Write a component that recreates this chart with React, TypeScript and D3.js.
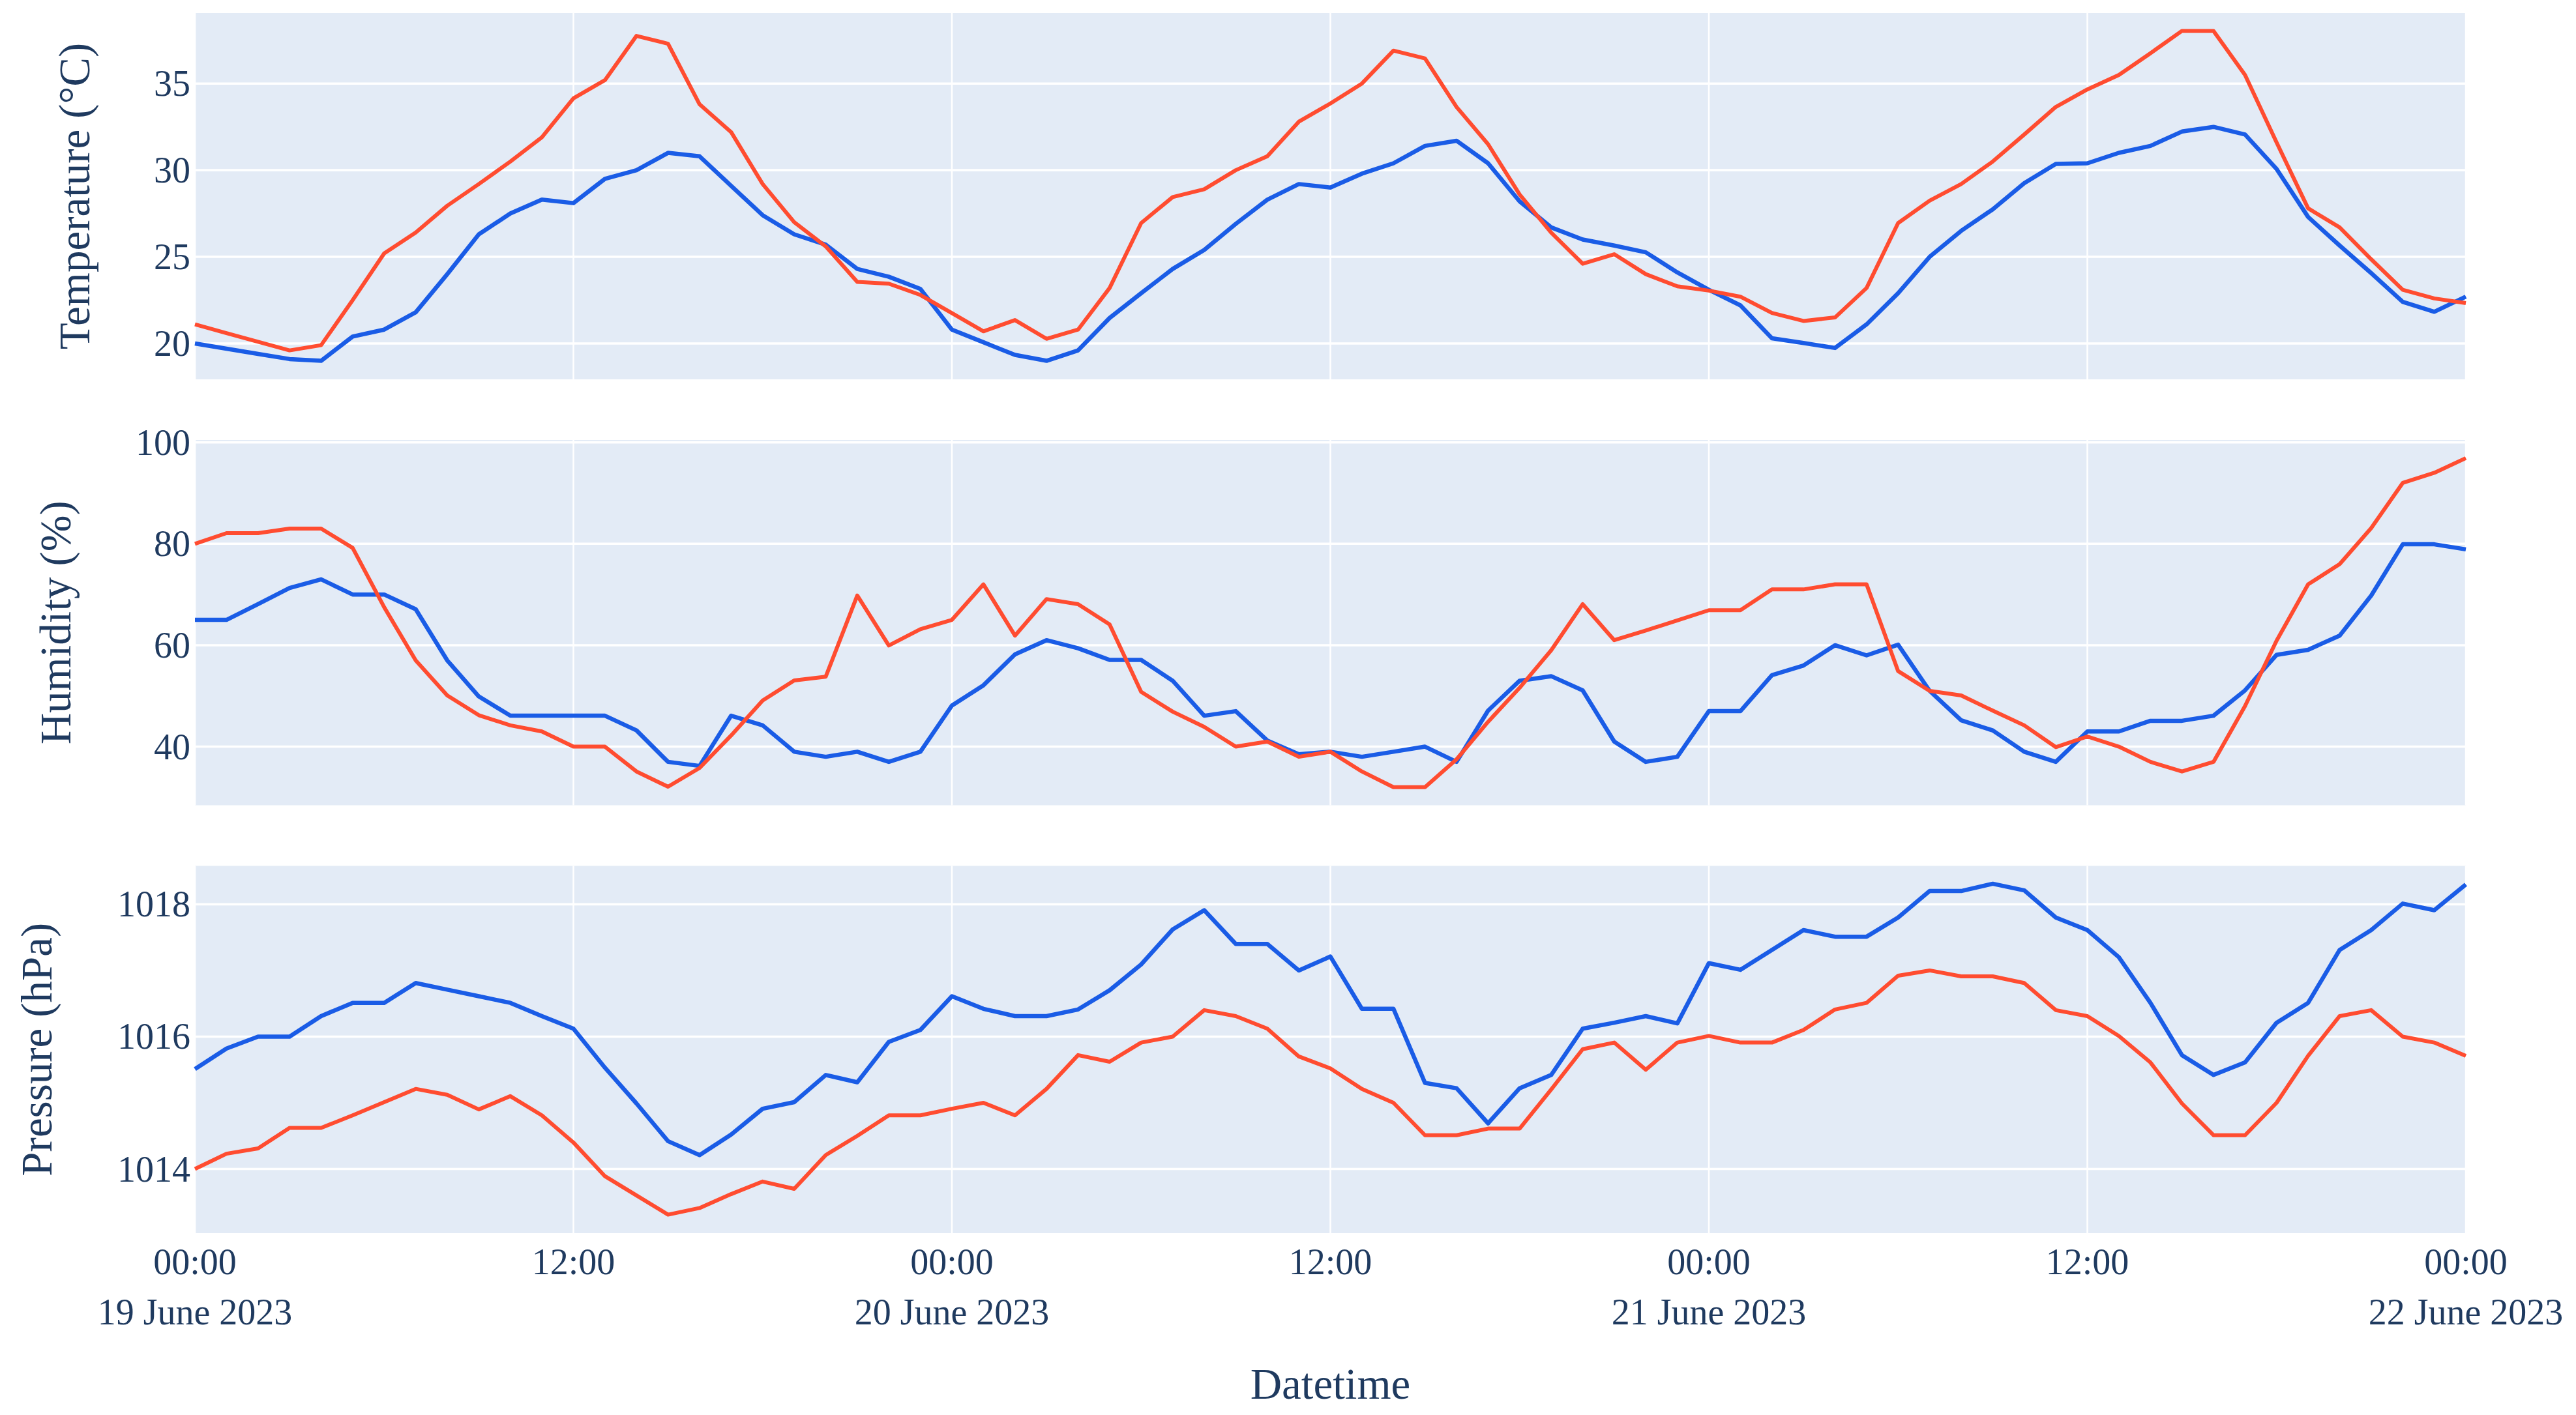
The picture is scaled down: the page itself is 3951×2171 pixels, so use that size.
import React from "react";
import * as d3 from "d3";

const hours: number[] = d3.range(0, 73);

const tempBlue: number[] = [20.0, 19.7, 19.4, 19.1, 19.0, 20.4, 20.8, 21.8, 24.0, 26.3, 27.5, 28.3, 28.1, 29.5, 30.0, 31.0, 30.8, 29.1, 27.4, 26.3, 25.7, 24.3, 23.85, 23.15, 20.8, 20.07, 19.34, 19.0, 19.6, 21.47, 22.9, 24.3, 25.4, 26.9, 28.3, 29.2, 29.0, 29.8, 30.4, 31.4, 31.7, 30.4, 28.2, 26.7, 26.0, 25.65, 25.26, 24.1, 23.1, 22.2, 20.3, 20.03, 19.74, 21.1, 22.9, 25.0, 26.5, 27.74, 29.25, 30.36, 30.4, 31.0, 31.4, 32.23, 32.5, 32.06, 30.07, 27.3, 25.65, 24.06, 22.4, 21.83, 22.7];
const tempRed: number[] = [21.1, 20.6, 20.1, 19.6, 19.9, 22.5, 25.2, 26.4, 27.95, 29.2, 30.5, 31.9, 34.15, 35.2, 37.75, 37.3, 33.8, 32.2, 29.2, 27.0, 25.6, 23.55, 23.45, 22.8, 21.75, 20.7, 21.35, 20.27, 20.8, 23.2, 26.95, 28.45, 28.9, 30.0, 30.8, 32.8, 33.85, 35.0, 36.9, 36.45, 33.65, 31.5, 28.6, 26.4, 24.6, 25.15, 24.0, 23.3, 23.05, 22.7, 21.76, 21.3, 21.5, 23.2, 26.95, 28.24, 29.2, 30.5, 32.06, 33.65, 34.66, 35.5, 36.75, 38.04, 38.04, 35.5, 31.6, 27.8, 26.7, 24.86, 23.1, 22.6, 22.33];

const humBlue: number[] = [65, 65, 68.1, 71.3, 73, 70, 70, 67.1, 57, 49.9, 46.1, 46.1, 46.1, 46.1, 43.2, 37.0, 36.2, 46.1, 44.2, 39.0, 38.0, 39, 37, 39, 48.1, 52.1, 58.2, 61, 59.4, 57.1, 57.1, 53, 46.1, 47, 41.2, 38.5, 39, 38, 39, 40, 37, 47.1, 53, 53.9, 51.1, 41, 37, 38, 47, 47, 54.1, 56, 60, 58, 60.1, 51, 45.2, 43.2, 39, 37, 43, 43, 45.1, 45.1, 46.1, 51.1, 58.1, 59.1, 61.9, 69.8, 79.9, 79.9, 78.9];
const humRed: number[] = [80, 82.1, 82.1, 83, 83, 79.2, 67.5, 57, 50.1, 46.2, 44.2, 43, 40, 40, 35.1, 32.1, 35.8, 42.2, 49.1, 53.05, 53.8, 69.8, 59.95, 63.15, 65, 72, 61.9, 69.1, 68.1, 64.1, 50.8, 46.9, 43.9, 40, 41, 38, 39, 35.1, 32, 32, 37.5, 44.9, 51.6, 59, 68.1, 61, 62.9, 64.9, 66.9, 66.9, 71, 71, 72, 72, 54.9, 51, 50.1, 47.1, 44.2, 39.9, 42, 40, 37, 35.1, 37, 48, 60.9, 72, 76, 83.1, 92, 94, 96.9];

const presBlue: number[] = [1015.51, 1015.82, 1016.0, 1016.0, 1016.31, 1016.51, 1016.51, 1016.81, 1016.71, 1016.61, 1016.51, 1016.31, 1016.12, 1015.53, 1014.99, 1014.42, 1014.21, 1014.52, 1014.91, 1015.01, 1015.42, 1015.31, 1015.92, 1016.1, 1016.61, 1016.42, 1016.31, 1016.31, 1016.41, 1016.7, 1017.09, 1017.62, 1017.91, 1017.4, 1017.4, 1017.0, 1017.21, 1016.42, 1016.42, 1015.3, 1015.22, 1014.69, 1015.22, 1015.42, 1016.12, 1016.21, 1016.31, 1016.2, 1017.11, 1017.01, 1017.31, 1017.61, 1017.51, 1017.51, 1017.8, 1018.2, 1018.2, 1018.31, 1018.21, 1017.8, 1017.61, 1017.2, 1016.51, 1015.72, 1015.42, 1015.61, 1016.21, 1016.51, 1017.31, 1017.61, 1018.01, 1017.91, 1018.3];
const presRed: number[] = [1014.0, 1014.23, 1014.31, 1014.62, 1014.62, 1014.81, 1015.01, 1015.21, 1015.12, 1014.9, 1015.1, 1014.81, 1014.4, 1013.89, 1013.6, 1013.31, 1013.41, 1013.62, 1013.81, 1013.7, 1014.21, 1014.5, 1014.81, 1014.81, 1014.91, 1015.0, 1014.81, 1015.21, 1015.72, 1015.62, 1015.91, 1016.0, 1016.4, 1016.31, 1016.12, 1015.7, 1015.52, 1015.21, 1015.0, 1014.51, 1014.51, 1014.61, 1014.61, 1015.2, 1015.81, 1015.91, 1015.5, 1015.91, 1016.01, 1015.91, 1015.91, 1016.1, 1016.41, 1016.51, 1016.92, 1017.0, 1016.91, 1016.91, 1016.81, 1016.4, 1016.31, 1016.01, 1015.61, 1014.99, 1014.51, 1014.51, 1015.0, 1015.71, 1016.31, 1016.4, 1016.0, 1015.91, 1015.71];

const tempTicks: number[] = [20, 25, 30, 35];
const humTicks: number[] = [40, 60, 80, 100];
const presTicks: number[] = [1014, 1016, 1018];
const xTickHours: number[] = [0, 12, 24, 36, 48, 60, 72];

const panelTitles: string[] = ["Temperature (°C)", "Humidity (%)", "Pressure (hPa)"];
const xTitle = "Datetime";

const W = 3951;
const H = 2171;
const LEFT = 299;
const RIGHT = 3782;
const FONT = "'Liberation Serif', 'Times New Roman', serif";
const TEXT = "#1f3a5f";
const BG = "#e3ebf6";
const BLUE = "#1a5ce6";
const RED = "#ff4c30";

const start = new Date(2023, 5, 19, 0, 0, 0);
const toDate = (h: number) => new Date(start.getTime() + h * 3600 * 1000);

const x = d3.scaleTime().domain([toDate(0), toDate(72)]).range([LEFT, RIGHT]);

type Panel = {
  title: string;
  top: number;
  bottom: number;
  domain: [number, number];
  ticks: number[];
  blue: number[];
  red: number[];
  titleX: number;
};

const panels: Panel[] = [
  { title: panelTitles[0], top: 20, bottom: 582, domain: [17.93, 39.07], ticks: tempTicks, blue: tempBlue, red: tempRed, titleX: 116 },
  { title: panelTitles[1], top: 675, bottom: 1235.5, domain: [28.44, 100.48], ticks: humTicks, blue: humBlue, red: humRed, titleX: 87 },
  { title: panelTitles[2], top: 1328.5, bottom: 1892, domain: [1013.03, 1018.58], ticks: presTicks, blue: presBlue, red: presRed, titleX: 58 },
];

const fmtTime = d3.timeFormat("%H:%M");
const fmtDate = d3.timeFormat("%-d %B %Y");

function PanelView({ p }: { p: Panel }) {
  const y = d3.scaleLinear().domain(p.domain).range([p.bottom, p.top]);
  const line = d3
    .line<number>()
    .x((_, i) => x(toDate(hours[i])))
    .y((v) => y(v));
  return (
    <g>
      <rect x={LEFT} y={p.top} width={RIGHT - LEFT} height={p.bottom - p.top} fill={BG} />
      {xTickHours.map((h) => (
        <line key={"v" + h} x1={x(toDate(h))} x2={x(toDate(h))} y1={p.top} y2={p.bottom} stroke="#ffffff" strokeWidth={2.5} />
      ))}
      {p.ticks.map((t) => (
        <line key={"h" + t} x1={LEFT} x2={RIGHT} y1={y(t)} y2={y(t)} stroke="#ffffff" strokeWidth={3.5} />
      ))}
      {p.ticks.map((t) => (
        <text key={"t" + t} x={292} y={y(t)} dy="0.34em" textAnchor="end" fontFamily={FONT} fontSize={56} fill={TEXT}>
          {t}
        </text>
      ))}
      <path d={line(p.blue) || ""} fill="none" stroke={BLUE} strokeWidth={6.5} strokeLinejoin="round" />
      <path d={line(p.red) || ""} fill="none" stroke={RED} strokeWidth={6} strokeLinejoin="round" />
      <text
        transform={`translate(${p.titleX},${(p.top + p.bottom) / 2}) rotate(-90)`}
        textAnchor="middle"
        dy="0.32em"
        fontFamily={FONT}
        fontSize={67}
        fill={TEXT}
      >
        {p.title}
      </text>
    </g>
  );
}

export default function App() {
  return (
    <svg
      width={W}
      height={H}
      viewBox={`0 0 ${W} ${H}`}
      style={{ position: "absolute", left: 0, top: 0, display: "block", background: "#ffffff" }}
    >
      <rect x={0} y={0} width={W} height={H} fill="#ffffff" />
      {panels.map((p, i) => (
        <PanelView key={i} p={p} />
      ))}
      {xTickHours.map((h) => {
        const d = toDate(h);
        const isMidnight = d.getHours() === 0;
        return (
          <g key={"xt" + h}>
            <text x={x(d)} y={1955} textAnchor="middle" fontFamily={FONT} fontSize={56} fill={TEXT}>
              {fmtTime(d)}
            </text>
            {isMidnight && (
              <text x={x(d)} y={2032} textAnchor="middle" fontFamily={FONT} fontSize={56} fill={TEXT}>
                {fmtDate(d)}
              </text>
            )}
          </g>
        );
      })}
      <text x={(LEFT + RIGHT) / 2} y={2146} textAnchor="middle" fontFamily={FONT} fontSize={67} fill={TEXT}>
        {xTitle}
      </text>
    </svg>
  );
}
